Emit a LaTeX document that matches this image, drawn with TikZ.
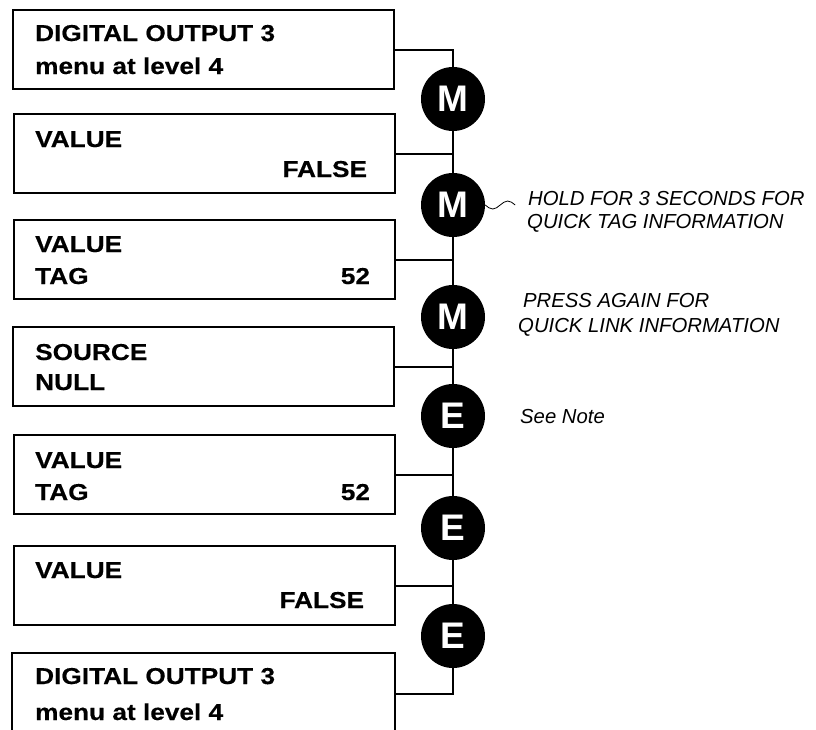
\documentclass[tikz,border=0pt]{standalone}
\usepackage{fontspec}
\setmainfont{Liberation Sans}
\newfontfamily\boxfont[FakeStretch=1.14,FakeBold=0.4]{Liberation Sans}
\begin{document}
\begin{tikzpicture}[x=1pt,y=-1pt,
  box/.style={draw, line width=2.2pt, minimum width=381pt, minimum height=79pt, inner sep=0pt, anchor=north west},
  txt/.style={inner sep=0pt, font=\boxfont\bfseries\fontsize{23}{27}\selectfont},
  key/.style={circle, fill=black, minimum size=64pt, inner sep=0pt, text=white, font=\bfseries\fontsize{37}{40}\selectfont},
  wire/.style={line width=2pt},
  note/.style={inner sep=0pt, anchor=base west, font=\itshape\fontsize{20.3}{24}\selectfont}]
\useasboundingbox (0,0) rectangle (816,729);
% boxes
\node[box] (b1) at (12,9) {};
\node[box] (b2) at (13,113) {};
\node[box] (b3) at (13,219) {};
\node[box] (b4) at (12,326) {};
\node[box] (b5) at (13,434) {};
\node[box] (b6) at (13,545) {};
\node[box, draw=none] (b7) at (12,653) {};
\draw[line width=2.2pt] (b7.north west) ++(0,80) -- (b7.north west) -- (b7.north east) -- ++(0,80);
% box texts
\node[txt, anchor=base west] (t1a) at ([xshift=23pt,yshift=-32pt]b1.north west) {DIGITAL OUTPUT 3};
\node[txt, anchor=base west] (t1b) at ([xshift=23pt,yshift=-65pt]b1.north west) {menu at level 4};
\node[txt, anchor=base west] (t2a) at ([xshift=22pt,yshift=-34pt]b2.north west) {VALUE};
\node[txt, anchor=base east] (t2b) at ([xshift=-29pt,yshift=-64pt]b2.north east) {FALSE};
\node[txt, anchor=base west] (t3a) at ([xshift=22pt,yshift=-33pt]b3.north west) {VALUE};
\node[txt, anchor=base west] (t3b) at ([xshift=22pt,yshift=-65pt]b3.north west) {TAG};
\node[txt, anchor=base east] (t3c) at ([xshift=-26pt,yshift=-65pt]b3.north east) {52};
\node[txt, anchor=base west] (t4a) at ([xshift=23pt,yshift=-34pt]b4.north west) {SOURCE};
\node[txt, anchor=base west] (t4b) at ([xshift=23pt,yshift=-64pt]b4.north west) {NULL};
\node[txt, anchor=base west] (t5a) at ([xshift=22pt,yshift=-34pt]b5.north west) {VALUE};
\node[txt, anchor=base west] (t5b) at ([xshift=22pt,yshift=-66pt]b5.north west) {TAG};
\node[txt, anchor=base east] (t5c) at ([xshift=-26pt,yshift=-66pt]b5.north east) {52};
\node[txt, anchor=base west] (t6a) at ([xshift=22pt,yshift=-33pt]b6.north west) {VALUE};
\node[txt, anchor=base east] (t6b) at ([xshift=-32pt,yshift=-63pt]b6.north east) {FALSE};
\node[txt, anchor=base west] (t7a) at ([xshift=23pt,yshift=-31pt]b7.north west) {DIGITAL OUTPUT 3};
\node[txt, anchor=base west] (t7b) at ([xshift=23pt,yshift=-67pt]b7.north west) {menu at level 4};
% wires
\draw[wire] (b1.east) -| (453,99);
\draw[wire] (453,99) -- (453,636) |- (b7.east);
\foreach \b in {b2,b3,b4,b5,b6} \draw[wire] (\b.east) -- (\b.east -| 453,0);
% keys
\node[key] (m1) at (453,99) {M};
\node[key] (m2) at (453,205) {M};
\node[key] (m3) at (453,317) {M};
\node[key] (e1) at (453,416) {E};
\node[key] (e2) at (453,528) {E};
\node[key] (e3) at (453,636) {E};
% wave
\draw[line width=0.8pt] (m2.east) sin ++(7.5,4) cos ++(7.5,-4) sin ++(7.5,-4) cos ++(7.5,4);
% notes
\node[note] (n1) at (528,205) {HOLD FOR 3 SECONDS FOR};
\node[note] (n2) at (527,228) {QUICK TAG INFORMATION};
\node[note] (n3) at (523,307) {PRESS AGAIN FOR};
\node[note] (n4) at (518,332) {QUICK LINK INFORMATION};
\node[note] (n5) at (520,423) {See Note};
\end{tikzpicture}
\end{document}
